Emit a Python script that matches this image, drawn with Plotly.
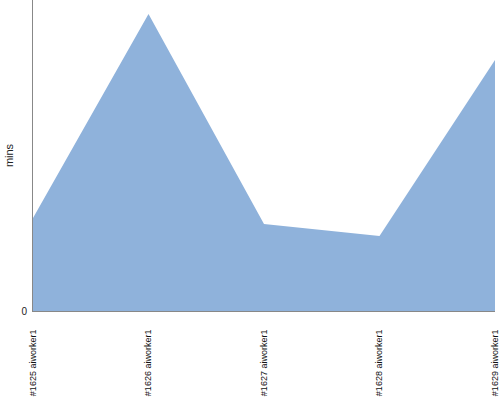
import plotly.graph_objects as go

categories = ["#1625 aiworker1", "#1626 aiworker1", "#1627 aiworker1", "#1628 aiworker1", "#1629 aiworker1"]
values = [9.3, 29.7, 8.7, 7.5, 25.1]

fig = go.Figure(go.Scatter(
    x=categories, y=values, mode="lines", fill="tozeroy",
    line=dict(width=0, color="#8FB2DB"), fillcolor="#8FB2DB",
    hoverinfo="skip",
))
fig.update_layout(
    width=500, height=400,
    margin=dict(l=33, r=5, t=0, b=89),
    plot_bgcolor="white", paper_bgcolor="white",
    showlegend=False,
    font=dict(family="Liberation Sans", size=10, color="#222"),
)
fig.update_xaxes(
    type="category", range=[0, 4], showgrid=False, zeroline=False,
    showline=True, linecolor="#888", linewidth=1, automargin=False,
    tickangle=-90, ticks="outside", ticklen=14, tickcolor="rgba(0,0,0,0)",
    tickfont=dict(size=9, family="Liberation Sans", color="#111"),
)
fig.update_yaxes(
    range=[0, 31.1], showgrid=False, zeroline=False, automargin=False,
    showline=True, linecolor="#888", linewidth=1,
    tickvals=[0], ticktext=["0"], ticks="outside", ticklen=3, tickcolor="rgba(0,0,0,0)",
    title=dict(text="mins", font=dict(size=11), standoff=5),
)
fig.write_html(
    "out.html",
    config={"displayModeBar": False},
    post_script="document.body.style.margin='0';document.body.style.overflow='hidden';",
)
